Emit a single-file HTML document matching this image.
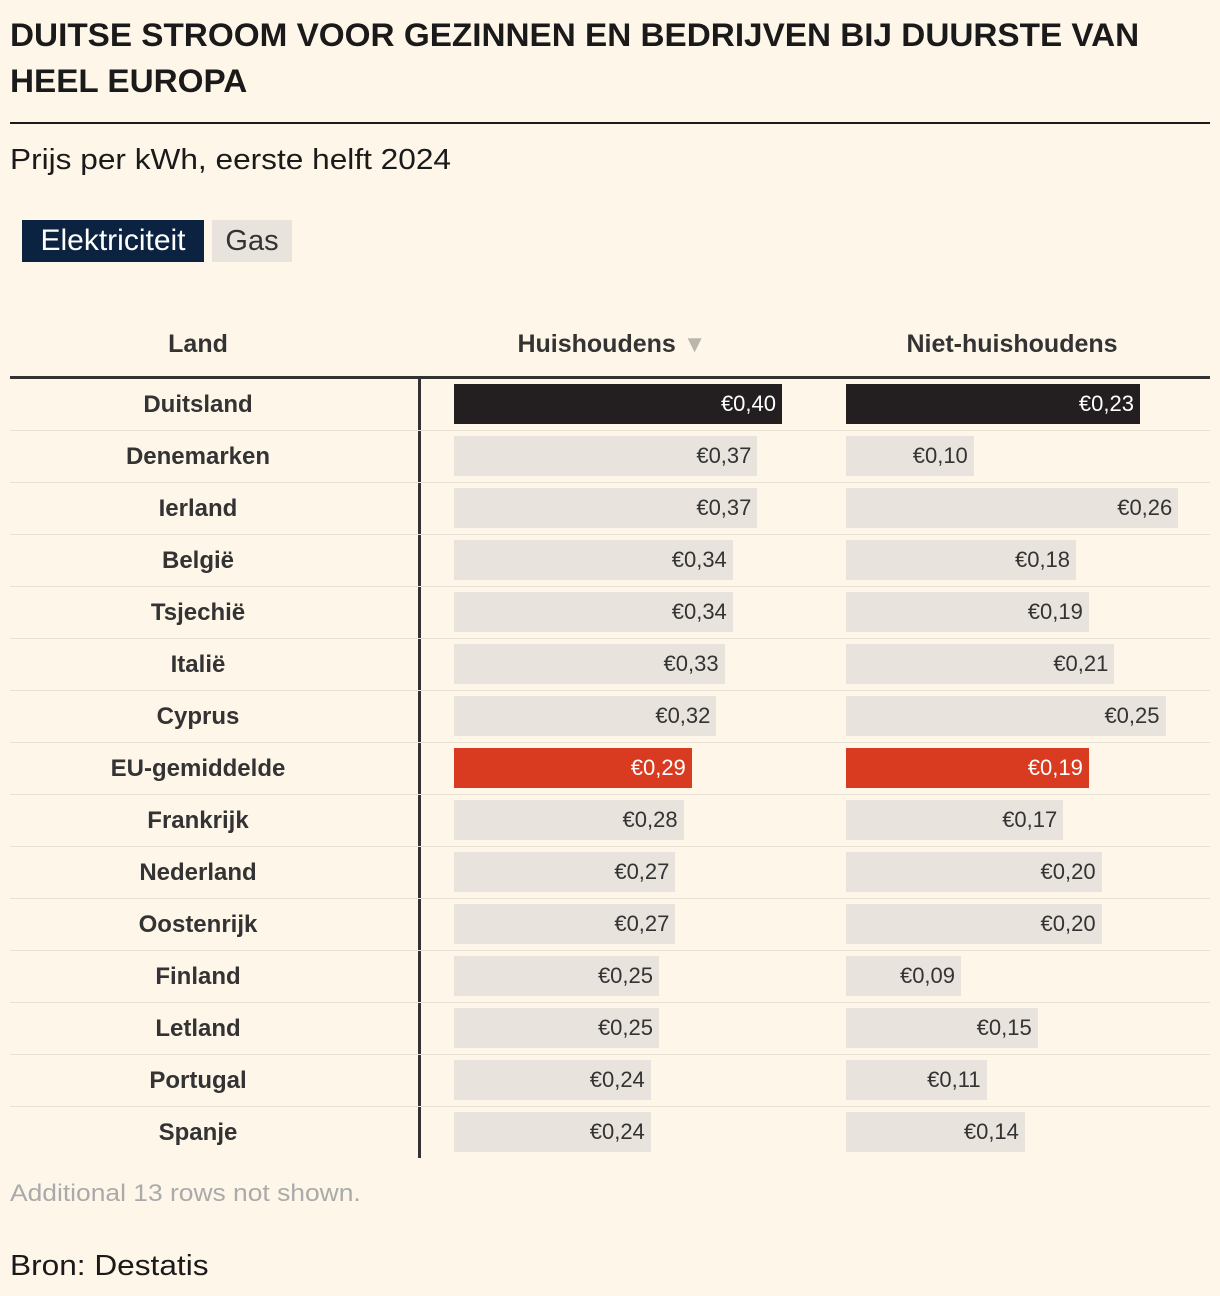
<!DOCTYPE html>
<html><head><meta charset="utf-8">
<style>
body{margin:0;background:#fef6e9;font-family:"Liberation Sans",sans-serif;color:#1a1a1a;}
#wrap{position:relative;width:1220px;height:1296px;overflow:hidden;}
.abs{position:absolute;}
.sx{display:inline-block;transform-origin:left top;white-space:nowrap;}
</style></head><body>
<div id="wrap">
<div class="abs sx" style="left:10px;top:12px;font-weight:bold;font-size:32px;line-height:46px;transform:scaleX(1.04);">DUITSE STROOM VOOR GEZINNEN EN BEDRIJVEN BIJ DUURSTE VAN<br>HEEL EUROPA</div>
<div class="abs" style="left:10px;top:122px;width:1200px;height:2px;background:#1a1a1a"></div>
<div class="abs sx" style="left:10px;top:144px;font-size:29px;transform:scaleX(1.09);">Prijs per kWh, eerste helft 2024</div>
<div class="abs" style="left:22px;top:220px;width:182px;height:42px;background:#0b2341;color:#fff;font-size:30px;line-height:42px;text-align:center;">Elektriciteit</div>
<div class="abs" style="left:212px;top:220px;width:80px;height:42px;background:#e8e3dd;color:#333;font-size:29px;line-height:42px;text-align:center;">Gas</div>
<div class="abs" style="left:10px;width:376px;top:330px;text-align:center;font-weight:bold;font-size:25px;color:#333">Land</div>
<div class="abs" style="left:412px;width:400px;top:330px;text-align:center;font-weight:bold;font-size:25px;color:#333">Huishoudens <span style="color:#bbb6ab;font-size:24px">▼</span></div>
<div class="abs" style="left:812px;width:400px;top:330px;text-align:center;font-weight:bold;font-size:25px;color:#333">Niet-huishoudens</div>
<div class="abs" style="left:10px;top:376px;width:1200px;height:3px;background:#333"></div>
<div class="abs" style="left:418px;top:378px;width:3px;height:780px;background:#333"></div>
<div id="rows"></div>
<div class="abs sx" style="left:10px;top:1180px;font-size:24px;color:#aaa;transform:scaleX(1.1);">Additional 13 rows not shown.</div>
<div class="abs sx" style="left:10px;top:1250px;font-size:29px;transform:scaleX(1.09);">Bron: Destatis</div>
</div>
<script>
const countries=["Duitsland","Denemarken","Ierland","België","Tsjechië","Italië","Cyprus","EU-gemiddelde","Frankrijk","Nederland","Oostenrijk","Finland","Letland","Portugal","Spanje"];
const households=[0.40,0.37,0.37,0.34,0.34,0.33,0.32,0.29,0.28,0.27,0.27,0.25,0.25,0.24,0.24];
const nonHouseholds=[0.23,0.10,0.26,0.18,0.19,0.21,0.25,0.19,0.17,0.20,0.20,0.09,0.15,0.11,0.14];
const hx=v=>v*820, nx=v=>v*1278;
const rows=document.getElementById('rows');
function bar(x,w,y,v,color,tc,name){
  const b=document.createElement('div');
  b.className='abs';
  
  
  b.style.cssText=`left:${x}px;top:${y+5}px;width:${w}px;height:40px;background:${color};color:${tc};font-size:22px;line-height:40px;text-align:right;padding-right:6px;box-sizing:border-box;`;
  b.textContent='€'+v.toFixed(2).replace('.',',');
  rows.appendChild(b);
}
countries.forEach((c,i)=>{
  const y=379+i*52;
  const hl=i===0?['#231f20','#fff']:(c==='EU-gemiddelde'?['#d93b20','#fff']:['#e8e3dd','#333']);
  const l=document.createElement('div');
  l.className='abs';
  
  
  l.style.cssText=`left:10px;width:376px;top:${y}px;height:52px;line-height:52px;text-align:center;font-weight:bold;font-size:24px;color:#333`;
  l.textContent=c;
  rows.appendChild(l);
  if(i>0){
    const s=document.createElement('div');
    s.className='abs';
    
    
    s.style.cssText=`left:10px;top:${y-1}px;width:1200px;height:1px;background:#e8e0d2`;
    rows.appendChild(s);
  }
  bar(454,hx(households[i]),y,households[i],hl[0],hl[1],'bar-households');
  bar(846,nx(nonHouseholds[i]),y,nonHouseholds[i],hl[0],hl[1],'bar-non-households');
});
</script>
</body></html>
